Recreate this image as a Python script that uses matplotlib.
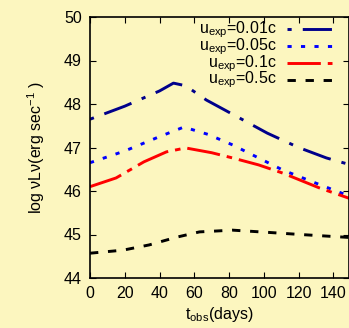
import matplotlib

matplotlib.use("Agg")
import matplotlib.pyplot as plt

plt.rcParams["font.family"] = ["Liberation Sans", "DejaVu Sans"]
plt.rcParams["mathtext.default"] = "regular"
plt.rcParams["lines.scale_dashes"] = False

BG = "#FCF6BF"

# days since explosion and log nuLnu for each expansion speed
t_001 = [0, 20, 40, 48, 55, 67, 85, 102, 120, 136, 150]
v_001 = [47.65, 47.95, 48.3, 48.48, 48.42, 48.09, 47.7, 47.33, 47.0, 46.76, 46.6]
t_005 = [0, 20, 40, 54, 68, 82, 97, 111, 130, 150]
v_005 = [46.65, 46.92, 47.25, 47.47, 47.3, 47.06, 46.76, 46.48, 46.18, 45.87]
t_01 = [0, 15, 31, 44, 55, 70, 82, 97, 111, 132, 150]
v_01 = [46.1, 46.3, 46.67, 46.9, 46.99, 46.88, 46.76, 46.6, 46.41, 46.07, 45.82]
t_05 = [0, 19, 34, 50, 63, 82, 102, 121, 150]
v_05 = [44.57, 44.64, 44.76, 44.94, 45.06, 45.1, 45.05, 45.0, 44.93]

labels = ["u$_{exp}$=0.01c", "u$_{exp}$=0.05c", "u$_{exp}$=0.1c", "u$_{exp}$=0.5c"]
colors = ["#00008B", "#0000FF", "#FF0000", "black"]
dashes = [(0, (3, 8, 21, 8)), (0, (3, 6.7)), (0, (24, 5, 4, 5)), (0, (6, 7))]
series = [(t_001, v_001), (t_005, v_005), (t_01, v_01), (t_05, v_05)]

fig = plt.figure(figsize=(3.49, 3.28), dpi=100, facecolor=BG)
ax = fig.add_axes([90 / 349, 1 - 278 / 328, 259 / 349, 261 / 328])
ax.set_facecolor(BG)

for (t, v), color, ls in zip(series, colors, dashes):
    ax.plot(t, v, color=color, linestyle=ls, lw=2.1)

# gnuplot-style key: text right-aligned, sample to its right
for i, (label, color, ls) in enumerate(zip(labels, colors, dashes)):
    yl = 0.953 - i * 0.0645
    ax.text(0.722, yl - 0.015, label, transform=ax.transAxes, ha="right",
            va="baseline", fontsize=11.5)
    ax.plot([0.761, 0.934], [yl, yl], transform=ax.transAxes, color=color,
            linestyle=ls, lw=2.1, clip_on=False)

ax.set_xlim(0, 149)
ax.set_ylim(44, 50)
ax.set_xticks(range(0, 141, 20))
ax.set_yticks(range(44, 51))
ax.tick_params(direction="in", top=True, right=True, labelsize=11.5, length=4, pad=6)
for s in ax.spines.values():
    s.set_linewidth(1.2)
ax.set_xlabel("t$_{obs}$(days)", fontsize=11.5, labelpad=3)
ax.set_ylabel("log \u03bdL\u03bd(erg sec$^{-1}$ )", fontsize=11.5, labelpad=12)

fig.savefig("out.png", dpi=100, facecolor=BG)
